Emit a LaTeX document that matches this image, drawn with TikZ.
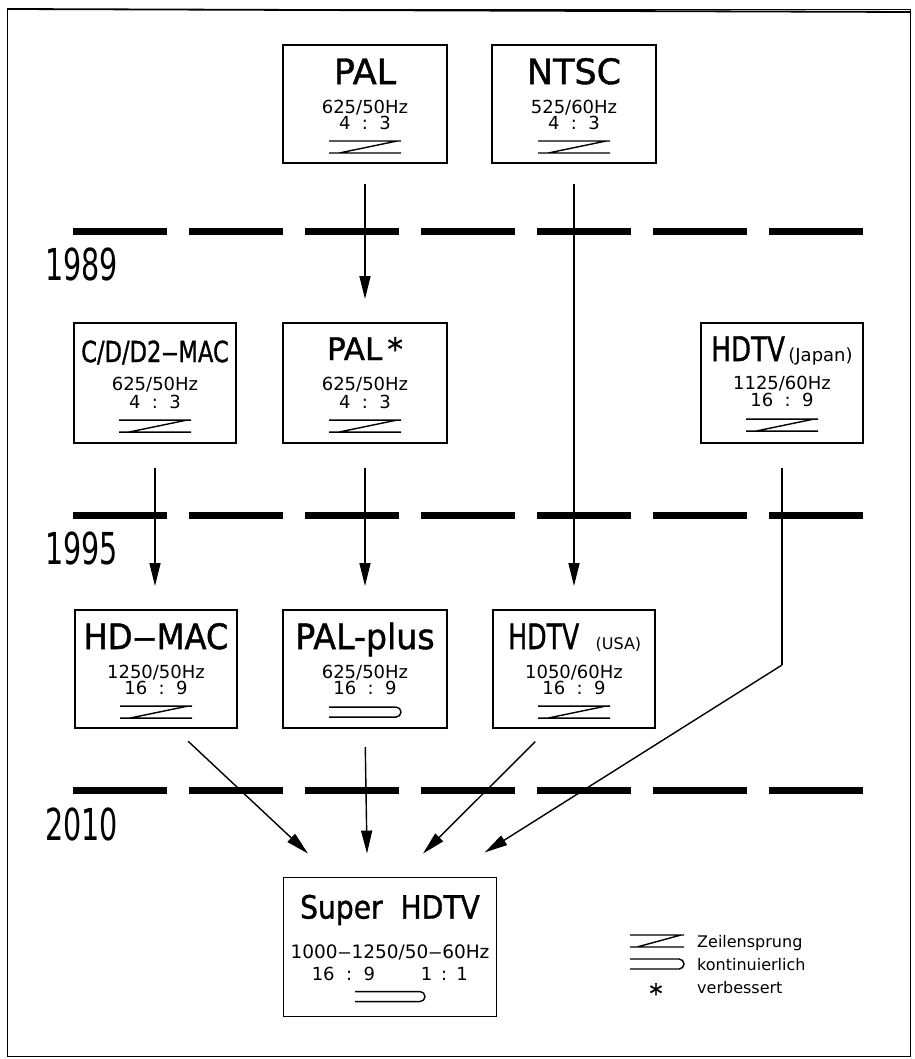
\documentclass[tikz,border=0pt]{standalone}
\usepackage{fontspec}
\setmainfont{DejaVu Sans}
\newfontface\boldish{DejaVu Sans}[FakeBold=1.2]
\usetikzlibrary{arrows.meta,calc}
\begin{document}
\begin{tikzpicture}[x=1pt,y=-1pt,
  box/.style={draw,line width=1.9pt,minimum width=164pt,minimum height=118pt,inner sep=0pt},
  arr/.style={line width=1.4pt,-{Triangle[length=23pt,width=11pt]}},
  ln/.style={line width=1.4pt},
  yearline/.style={line width=7pt,dash pattern=on 94pt off 22pt},
  ttl/.style={anchor=base,inner sep=0pt,font=\boldish\fontsize{35}{35}\selectfont},
  spec/.style={anchor=base,inner sep=0pt,font=\fontsize{18}{18}\selectfont},
  yr/.style={anchor=base west,inner sep=0pt,font=\fontsize{44}{44}\selectfont},
  leg/.style={anchor=base west,inner sep=0pt,font=\fontsize{16}{16}\selectfont},
  sym/.style={line width=1.4pt}
]
\useasboundingbox (0,0) rectangle (914,1059);
% frame
\draw[line width=0.8pt] (7,9) rectangle (910,1056);
\draw[line width=1.8pt] (7,9) -- (910,12);

% symbols
\newcommand{\zz}[1]{\draw[sym] ($(#1)+(-36,-6)$) -- ($(#1)+(36,-6)$) ($(#1)+(32,-6)$) -- ($(#1)+(-26,6)$) ($(#1)+(-36,6)$) -- ($(#1)+(36,6)$);}
\newcommand{\lz}[1]{\draw[sym] ($(#1)+(-27,-6)$) -- ($(#1)+(27,-6)$) ($(#1)+(24,-6)$) -- ($(#1)+(-20,6)$) ($(#1)+(-27,6)$) -- ($(#1)+(27,6)$);}
\newcommand{\pp}[2]{\draw[sym] ($(#1)+(-#2,-5)$) -- ($(#1)+(#2-5,-5)$) arc[start angle=-90,end angle=90,radius=5] -- ($(#1)+(-#2,5)$);}
\newcommand{\dsh}{\scalebox{1.5}[1]{–}}

% year lines
\draw[yearline] (73,232) -- (864,232);
\draw[yearline] (73,515) -- (864,515);
\draw[yearline] (73,790) -- (864,790);
\node[yr] (y1) at (45,280) {\scalebox{0.65}[1]{1989}};
\node[yr] (y2) at (45,564) {\scalebox{0.65}[1]{1995}};
\node[yr] (y3) at (45,840) {\scalebox{0.65}[1]{2010}};

% boxes row 1
\node[box] (pal) at (365,104) {};
\node[box] (ntsc) at (574,104) {};
% row 2
\node[box,minimum width=162pt,minimum height=120pt] (cd) at (155,383) {};
\node[box,minimum height=120pt] (pals) at (365,383) {};
\node[box,minimum width=162pt,minimum height=120pt] (jap) at (782,383) {};
% row 3
\node[box,minimum width=162pt] (hdmac) at (156,669) {};
\node[box] (palplus) at (365,669) {};
\node[box,minimum width=162pt] (usa) at (574,669) {};
% super
\node[box,minimum width=213pt,minimum height=139pt] (super) at (390,947) {};

% texts row 1
\node[ttl] (palt) at ($(pal.north)+(0,40)$) {PAL};
\node[spec] (pals1) at ($(pal.north)+(0,69)$) {625/50Hz};
\node[spec] (pals2) at ($(pal.north)+(0,85)$) {4\ \ :\ \ 3};
\coordinate (palz) at ($(pal.north)+(0,103)$);
\zz{palz}
\node[ttl] (ntsct) at ($(ntsc.north)+(0,40)$) {NTSC};
\node[spec] (ntscs1) at ($(ntsc.north)+(0,69)$) {525/60Hz};
\node[spec] (ntscs2) at ($(ntsc.north)+(0,85)$) {4\ \ :\ \ 3};
\coordinate (ntscz) at ($(ntsc.north)+(0,103)$);
\zz{ntscz}

% row 2
\node[ttl,font=\boldish\fontsize{29}{29}\selectfont] (cdt) at ($(cd.north)+(0,40)$) {\scalebox{0.78}[1]{C/D/D2\dsh MAC}};
\node[spec] (cds1) at ($(cd.north)+(0,68)$) {625/50Hz};
\node[spec] (cds2) at ($(cd.north)+(0,86)$) {4\ \ :\ \ 3};
\coordinate (cdz) at ($(cd.north)+(0,104)$);
\zz{cdz}
\node[ttl,font=\boldish\fontsize{31}{31}\selectfont] (palst) at ($(pals.north)+(0,38)$) {PAL\,*};
\node[spec] (palss1) at ($(pals.north)+(0,68)$) {625/50Hz};
\node[spec] (palss2) at ($(pals.north)+(0,86)$) {4\ \ :\ \ 3};
\coordinate (palsz) at ($(pals.north)+(0,104)$);
\zz{palsz}
\node[ttl,anchor=base west,font=\boldish\fontsize{34}{34}\selectfont] (japt) at ($(jap.north west)+(11,39)$) {\scalebox{0.77}[1]{HDTV}};
\node[anchor=base west,inner sep=0pt,font=\fontsize{18}{18}\selectfont] (japt2) at (japt.base east) {\,(Japan)};
\node[spec] (japs1) at ($(jap.north)+(0,67)$) {1125/60Hz};
\node[spec] (japs2) at ($(jap.north)+(0,84)$) {16\ \ :\ \ 9};
\coordinate (japz) at ($(jap.north)+(0,103)$);
\zz{japz}

% row 3
\node[ttl] (hdmact) at ($(hdmac.north)+(0,40)$) {\scalebox{0.92}[1]{HD\dsh MAC}};
\node[spec] (hdmacs1) at ($(hdmac.north)+(0,69)$) {1250/50Hz};
\node[spec] (hdmacs2) at ($(hdmac.north)+(0,85)$) {16\ \ :\ \ 9};
\coordinate (hdmacz) at ($(hdmac.north)+(0,103)$);
\zz{hdmacz}
\node[ttl] (palplust) at ($(palplus.north)+(0,40)$) {\scalebox{0.95}[1]{PAL-plus}};
\node[spec] (palpluss1) at ($(palplus.north)+(0,69)$) {625/50Hz};
\node[spec] (palpluss2) at ($(palplus.north)+(0,85)$) {16\ \ :\ \ 9};
\coordinate (palplusz) at ($(palplus.north)+(0,103)$);
\pp{palplusz}{36}
\node[ttl,anchor=base west] (usat) at ($(usa.north west)+(16,40)$) {\scalebox{0.72}[1]{HDTV}};
\node[anchor=base west,inner sep=0pt,font=\fontsize{16}{16}\selectfont] (usat2) at ($(usat.base east)+(16,0)$) {(USA)};
\node[spec] (usas1) at ($(usa.north)+(0,69)$) {1050/60Hz};
\node[spec] (usas2) at ($(usa.north)+(0,85)$) {16\ \ :\ \ 9};
\coordinate (usaz) at ($(usa.north)+(0,103)$);
\zz{usaz}

% super
\node[ttl,font=\boldish\fontsize{32}{32}\selectfont] (supert) at ($(super.north)+(0,42)$) {\scalebox{0.88}[1]{Super\ \ HDTV}};
\node[spec,font=\fontsize{18.5}{18.5}\selectfont] (supers1) at ($(super.north)+(0,82)$) {1000\dsh 1250/50\dsh 60Hz};
\node[spec,anchor=base west] (supers2) at ($(super.north west)+(29,104)$) {16\ \ :\ \ 9};
\node[spec,anchor=base west] (supers3) at ($(super.north west)+(138,104)$) {1\hspace{0.5em}:\hspace{0.5em}1};
\coordinate (superz) at ($(super.north)+(0,120)$);
\pp{superz}{35}

% legend
\coordinate (lzc) at (657,941);
\lz{lzc}
\node[leg] (l1) at (697,947) {Zeilensprung};
\coordinate (lpc) at (657,964);
\pp{lpc}{27}
\node[leg] (l2) at (697,970) {kontinuierlich};
\node[anchor=center,inner sep=0pt,font=\boldish\fontsize{26}{26}\selectfont] (lstar) at (656,993) {*};
\node[leg] (l3) at (697,993) {verbessert};

% connectors
\draw[arr,shorten <=20pt,shorten >=23pt] (pal.south) -- (pals.north);
\draw[arr,shorten <=20pt,shorten >=23pt] (ntsc.south) -- (usa.north);
\draw[arr,shorten <=24pt,shorten >=23pt] (cd.south) -- (cd.south |- hdmac.north);
\draw[arr,shorten <=24pt,shorten >=23pt] (pals.south) -- (palplus.north);
\coordinate (bend) at (782,665);
\draw[ln,shorten <=24pt] (jap.south) -- (bend);
\draw[arr,shorten >=2pt] (bend) -- ($(super.north)+(93,-23)$);
\draw[arr,shorten <=18pt] ([xshift=19pt]hdmac.south) -- ($(super.north)+(-82,-23)$);
\draw[arr,shorten <=18pt] (palplus.south) -- ($(super.north)+(-23,-23)$);
\draw[arr,shorten <=18pt] ([xshift=-26pt]usa.south) -- ($(super.north)+(33,-23)$);
\end{tikzpicture}
\end{document}
